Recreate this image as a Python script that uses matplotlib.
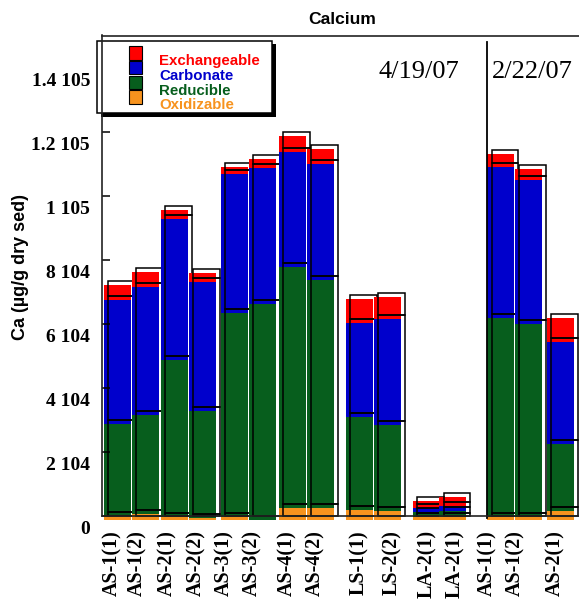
import matplotlib
matplotlib.use('Agg')
import matplotlib.pyplot as plt
from matplotlib.patches import Rectangle
from matplotlib.transforms import ScaledTranslation

# ---------------- data ----------------
categories = ['AS-1(1)', 'AS-1(2)', 'AS-2(1)', 'AS-2(2)', 'AS-3(1)', 'AS-3(2)',
              'AS-4(1)', 'AS-4(2)', 'LS-1(1)', 'LS-2(2)', 'LA-2(1)', 'LA-2(1)',
              'AS-1(1)', 'AS-1(2)', 'AS-2(1)']
oxidizable   = [1200, 1800,   900,   500,   900,     0,  3750,  3750,  3000,  2700,  750,  750,   900,   900,  2700]
reducible    = [28700, 30800, 49000, 33500, 63700, 67400, 75200, 71150, 29100, 26900, 1750, 2050, 62200, 60300, 21000]
carbonate    = [38800, 40100, 44100, 40300, 43400, 42500, 35900, 36250, 29400, 33100, 1250, 1500, 47200, 45000, 31900]
exchangeable = [4700, 4700,  2800,  2800,  2200,  2800,  5000,  4700,  7500,  6900, 2100, 2650,  4000,  3300,  7400]
series_names = ['Exchangeable', 'Carbonate', 'Reducible', 'Oxidizable']
y_ticks = [0, 20000, 40000, 60000, 80000, 100000, 120000, 140000]
y_tick_labels = ['0', '2 104', '4 104', '6 104', '8 104', '1 105', '1.2 105', '1.4 105']
dates = ['4/19/07', '2/22/07']
title = 'Calcium'
y_label = 'Ca (µg/g dry sed)'

# ---------------- layout (pixel based) ----------------
W, H = 579, 602
DPI = 100
colors = {'Exchangeable': '#ff0000', 'Carbonate': '#0000cc',
          'Reducible': '#075e1d', 'Oxidizable': '#f7931e'}

fill_centers = [117.4, 145.6, 174.3, 202.5, 234.5, 262.5, 292.5, 320.5,
                359.5, 387.5, 426.2, 452.7, 500.7, 528.5, 560.5]
dx_sh, dy_sh = 4.3, 4.0           # outline offset (right / up) in px
bar_x = [c + dx_sh for c in fill_centers]
bar_w = 26.8
label_x = [112.5, 137.5, 167.5, 196.7, 224, 252.3, 287.3, 315,
           359, 391.7, 426.7, 455, 487.3, 515.7, 555.7]

ax_left, ax_top, ax_bottom = 101.7, 35.5, 515.7
px_per_unit = 64.0 / 20000.0

def fx(x):
    return x / W

def fy(y):
    return 1 - y / H

fig = plt.figure(figsize=(W / DPI, H / DPI), dpi=DPI)
ax = fig.add_axes([fx(ax_left), fy(ax_bottom), (W - ax_left) / W, (ax_bottom - ax_top) / H])

ymax = (ax_bottom - ax_top) / px_per_unit

fill_tr = ax.transData + ScaledTranslation(-dx_sh / DPI, -dy_sh / DPI, fig.dpi_scale_trans)

stack_order = [('Oxidizable', oxidizable), ('Reducible', reducible),
               ('Carbonate', carbonate), ('Exchangeable', exchangeable)]

for i in range(len(categories)):
    z = 1 + 0.05 * i
    bottom = 0
    segs = []
    for name, vals in stack_order:
        v = vals[i]
        if v > 0:
            segs.append((bottom, v, colors[name]))
        bottom += v
    for b, v, c in segs:
        ax.bar(bar_x[i], v, bar_w, bottom=b, color=c, linewidth=0,
               transform=fill_tr, clip_on=False, zorder=z)
    for b, v, c in segs:
        ax.bar(bar_x[i], v, bar_w, bottom=b, fill=False, edgecolor='black',
               linewidth=1.1, clip_on=False, zorder=z + 0.02)

ax.set_xlim(ax_left, W)
ax.set_ylim(0, ymax)

# divider between dates
ax.plot([486.7, 486.7], [(ax_bottom - 518) / px_per_unit, (ax_bottom - 41.7) / px_per_unit],
        color='black', lw=1.3, clip_on=False, zorder=2.2)

# spines
for s in ['left', 'top', 'bottom']:
    ax.spines[s].set_linewidth(1.2)
    ax.spines[s].set_color('#222222')
ax.spines['right'].set_visible(False)

ax.set_yticks(y_ticks)
ax.set_yticklabels(y_tick_labels, fontfamily='Liberation Serif', fontweight='bold', fontsize=14)
ax.tick_params(axis='y', direction='in', length=5.5, width=1.1, pad=8.4)
off = ScaledTranslation(0, -11.7 / DPI, fig.dpi_scale_trans)
for lab in ax.get_yticklabels():
    lab.set_transform(lab.get_transform() + off)

ax.set_xticks(label_x)
ax.set_xticklabels(categories, rotation=90, fontfamily='Liberation Serif',
                   fontweight='bold', fontsize=14.5, va='top', ha='center')
ax.tick_params(axis='x', length=0, pad=10.3)

# texts
fig.text(fx(342.3), fy(19.5), title, ha='center', va='center',
         fontfamily='Liberation Sans', fontweight='bold', fontsize=12.6)
fig.text(fx(21), fy(267.5), y_label, ha='center', va='center', rotation=90,
         fontfamily='Liberation Sans', fontweight='bold', fontsize=13)
fig.text(fx(418.5), fy(78), dates[0], ha='center', va='baseline',
         fontfamily='Liberation Serif', fontsize=19)
fig.text(fx(532.3), fy(78), dates[1], ha='center', va='baseline',
         fontfamily='Liberation Serif', fontsize=19)

# legend box with shadow
def frect(x0, y0, x1, y1, **kw):
    r = Rectangle((fx(x0), fy(y1)), (x1 - x0) / W, (y1 - y0) / H,
                  transform=fig.transFigure, clip_on=False, **kw)
    ax.add_artist(r)
    return r

frect(100.8, 44.2, 275.8, 116.8, facecolor='black', edgecolor='none', zorder=2.3)
frect(97.3, 40.7, 272.3, 113.3, facecolor='white', edgecolor='black', linewidth=1.1, zorder=2.35)
sq_tops = [46, 60.7, 75.7, 90.3]
txt_base = [64.5, 79.5, 94.5, 109.5]
for k, name in enumerate(series_names):
    frect(129, sq_tops[k], 142, sq_tops[k] + 13.5, facecolor=colors[name],
          edgecolor='black', linewidth=0.8, zorder=2.4)
    ax.text(fx(159), fy(txt_base[k]), name, transform=fig.transFigure,
            ha='left', va='baseline', color=colors[name],
            fontfamily='Liberation Sans', fontweight='bold', fontsize=10.8,
            zorder=2.45, clip_on=False)

fig.savefig('out.png', dpi=DPI)
